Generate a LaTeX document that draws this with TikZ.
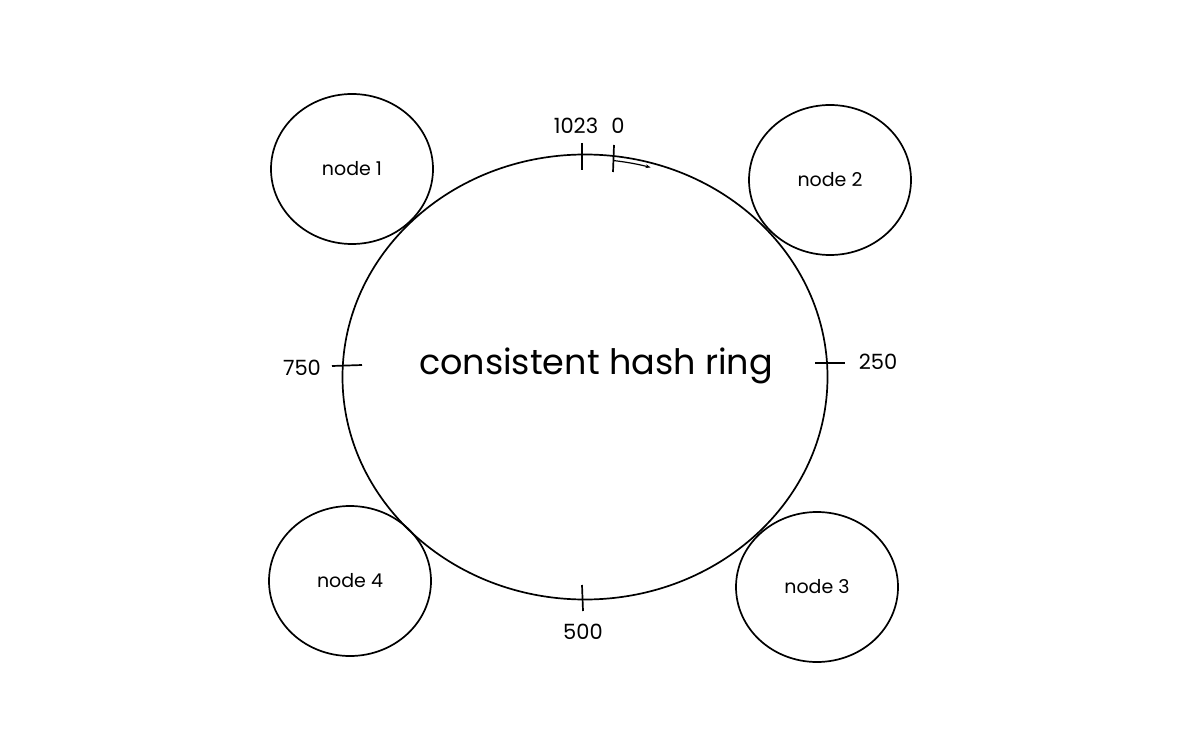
\documentclass[tikz,border=0pt]{standalone}
\usepackage{fontspec}
\setmainfont{Poppins}
\usetikzlibrary{shapes.geometric,arrows.meta}

\begin{document}
\begin{tikzpicture}[x=1pt,y=-1pt,
	server/.style={draw,ellipse,line width=1.7pt,minimum width=162pt,minimum height=150pt,font=\fontsize{19}{21}\selectfont},
	hashpos/.style={font=\fontsize{21}{23}\selectfont}]
	
	\useasboundingbox (0,0) rectangle (1188,751);
	
	\coordinate (c) at (585,377);
	\node[draw,ellipse,line width=1.7pt,minimum width=485pt,minimum height=445pt] (ring) at (c) {};
	\node[font=\fontsize{35}{38}\selectfont] (title) at (596,366) {consistent hash ring};
	
	\node[server] (n1) at (352,169) {node 1};
	\node[server] (n2) at (830,180) {node 2};
	\node[server] (n3) at (817,587) {node 3};
	\node[server] (n4) at (350,581) {node 4};
	
	\coordinate (t1a) at (582,143);
	\coordinate (t1b) at (582,170);
	\coordinate (t0a) at (614,145);
	\coordinate (t0b) at (613,172);
	\coordinate (t2a) at (815,363);
	\coordinate (t2b) at (845,363);
	\coordinate (t5a) at (582,585);
	\coordinate (t5b) at (583,611);
	\coordinate (t7a) at (332,366);
	\coordinate (t7b) at (362,365);
	\draw[line width=1.7pt] (t1a) -- (t1b);
	\draw[line width=1.7pt] (t0a) -- (t0b);
	\draw[line width=1.7pt] (t2a) -- (t2b);
	\draw[line width=1.7pt] (t5a) -- (t5b);
	\draw[line width=1.7pt] (t7a) -- (t7b);
	
	\node[hashpos] (l1) at (576,126) {1023};
	\node[hashpos] (l0) at (618,126) {0};
	\node[hashpos] (l2) at (878,362) {250};
	\node[hashpos] (l5) at (583,632) {500};
	\node[hashpos] (l7) at (302,368) {750};
	
	% direction of the ring
	\draw[line width=1.2pt,-{Stealth[length=5pt]}] ([shift={(-83:238 and 218)}]c)
		arc[start angle=-83,end angle=-74,x radius=238,y radius=218];
	
\end{tikzpicture}
\end{document}
